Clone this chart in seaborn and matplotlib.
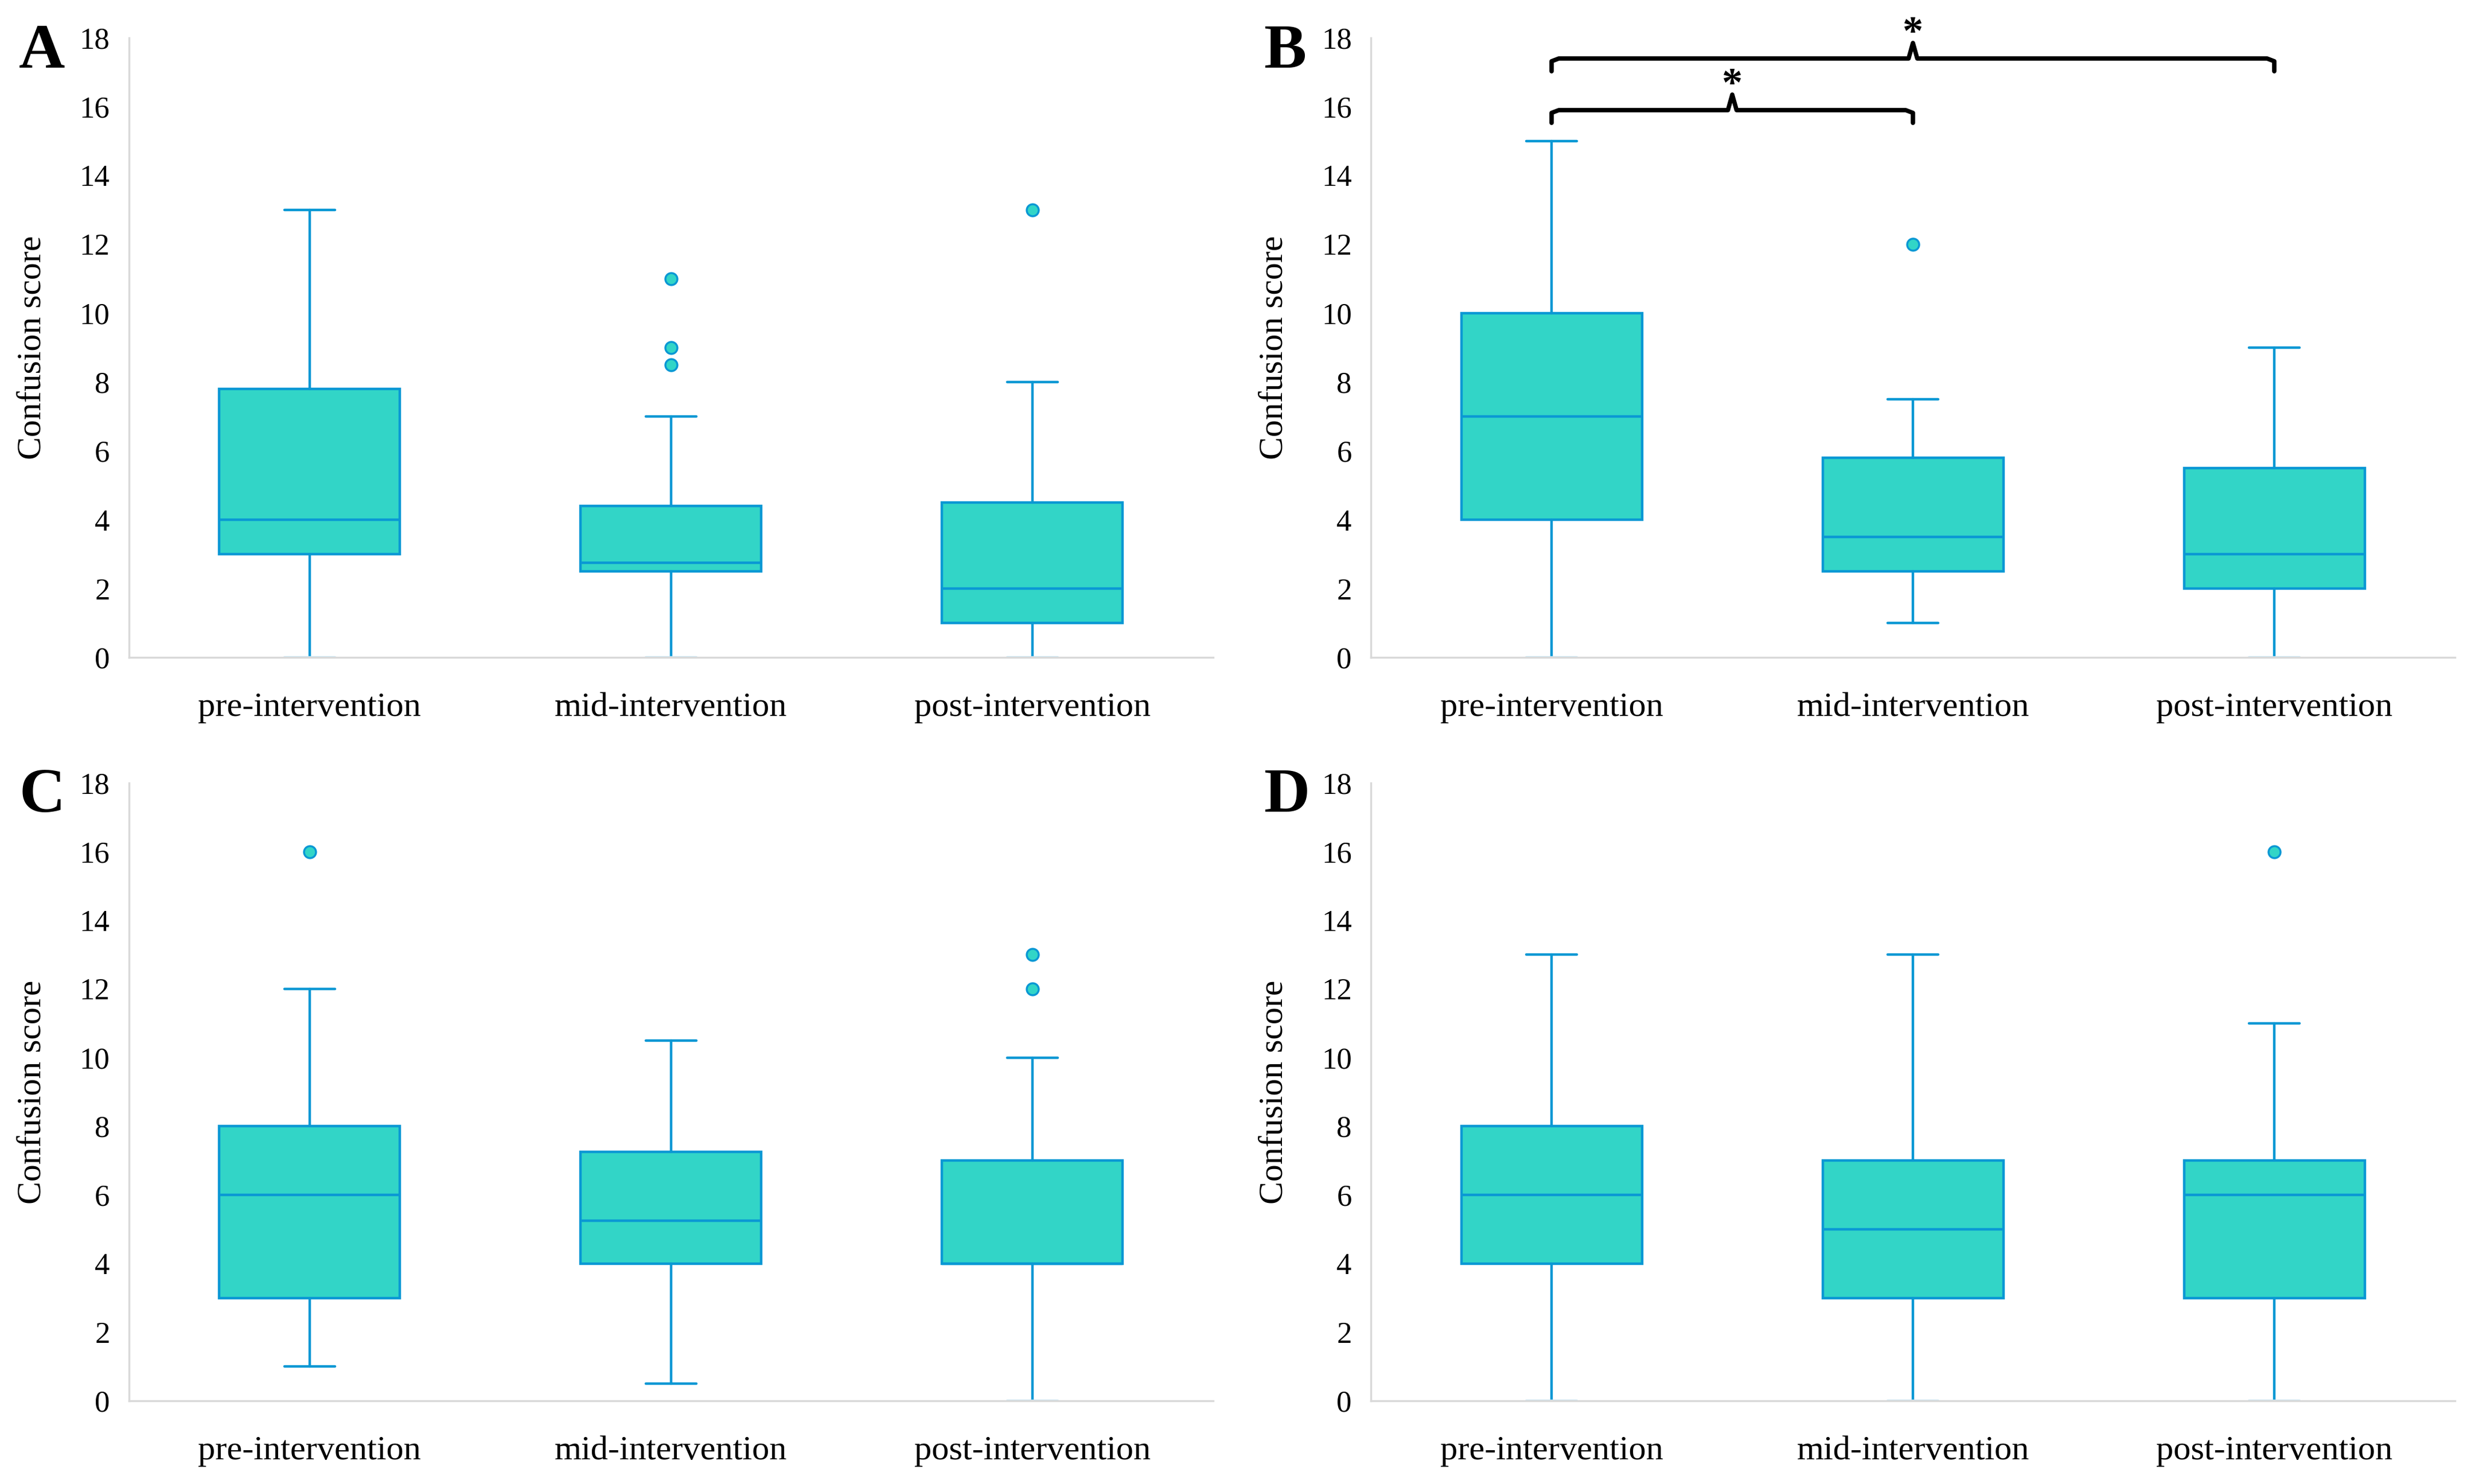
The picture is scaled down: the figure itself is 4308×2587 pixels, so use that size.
import numpy as np
import pandas as pd
import matplotlib
matplotlib.use("Agg")
import matplotlib.pyplot as plt
import seaborn as sns

# groups on the x axis
groups = ["pre-intervention", "mid-intervention", "post-intervention"]
panels = ["A", "B", "C", "D"]

# box statistics, one list per panel, one entry per group
whis_low = {"A": [0, 0, 0], "B": [0, 1, 0], "C": [1, 0.5, 0], "D": [0, 0, 0]}
q1 = {"A": [3, 2.5, 1], "B": [4, 2.5, 2], "C": [3, 4, 4], "D": [4, 3, 3]}
median = {"A": [4, 2.75, 2], "B": [7, 3.5, 3], "C": [6, 5.25, 4], "D": [6, 5, 6]}
q3 = {"A": [7.8, 4.4, 4.5], "B": [10, 5.8, 5.5], "C": [8, 7.25, 7], "D": [8, 7, 7]}
whis_high = {"A": [13, 7, 8], "B": [15, 7.5, 9], "C": [12, 10.5, 10], "D": [13, 13, 11]}
outliers = {
    "A": [[], [8.5, 9, 11], [13]],
    "B": [[], [12], []],
    "C": [[16], [], [12, 13]],
    "D": [[], [], [16]],
}

# significance brackets in panel B: (from group, to group)
sig_pairs = [(0, 1), (0, 2)]
sig_levels = [15.9, 17.4]
sig_marks = ["*", "*"]

FILL = "#32d5c7"
EDGE = "#0a98d4"
AXIS = "#d9d9d9"

sns.set_theme(style="white")
plt.rcParams["font.family"] = ["Liberation Serif", "DejaVu Serif"]
plt.rcParams["text.color"] = "black"
plt.rcParams["axes.labelcolor"] = "black"

fig = plt.figure(figsize=(43.08, 25.87), dpi=100)

boxes_pos = {
    "A": [0.0522, 0.557, 0.4387, 0.4175],
    "B": [0.5548, 0.557, 0.4387, 0.4175],
    "C": [0.0522, 0.056, 0.4387, 0.4164],
    "D": [0.5548, 0.056, 0.4387, 0.4164],
}
letter_pos = {"A": (0.0077, 0.9544), "B": (0.5114, 0.9544),
              "C": (0.0077, 0.453), "D": (0.5114, 0.453)}

for p in panels:
    ax = fig.add_axes(boxes_pos[p])
    stats = []
    for i, g in enumerate(groups):
        stats.append(dict(label=g, whislo=whis_low[p][i], q1=q1[p][i], med=median[p][i],
                          q3=q3[p][i], whishi=whis_high[p][i], fliers=outliers[p][i]))
    art = ax.bxp(stats, positions=[0, 1, 2], widths=0.5, capwidths=0.14,
                 patch_artist=True, showfliers=True,
                 boxprops=dict(facecolor=FILL, edgecolor=EDGE, linewidth=3.2),
                 medianprops=dict(color=EDGE, linewidth=3.2),
                 whiskerprops=dict(color=EDGE, linewidth=3.2),
                 capprops=dict(color=EDGE, linewidth=3.2),
                 flierprops=dict(marker="o", markerfacecolor=FILL, markeredgecolor=EDGE,
                                 markersize=15, markeredgewidth=2.5))
    # caps sitting on the axis look washed out in the original
    for cap in art["caps"]:
        if cap.get_ydata()[0] == 0:
            cap.set_color("#c9e6f2")

    ax.set_xlim(-0.5, 2.5)
    ax.set_ylim(0, 18)
    ax.set_yticks(np.arange(0, 19, 2))
    ax.tick_params(axis="both", length=0, colors="black")
    ax.tick_params(axis="y", labelsize=38, pad=24)
    ax.tick_params(axis="x", labelsize=43.5, pad=44)
    ax.set_ylabel("Confusion score", fontsize=43, color="black")
    ax.yaxis.set_label_coords(-0.075, 0.5)
    sns.despine(ax=ax)
    for s in ["left", "bottom"]:
        ax.spines[s].set_color(AXIS)
        ax.spines[s].set_linewidth(2.5)
        ax.spines[s].set_zorder(3)
    ax.grid(False)

    fig.text(*letter_pos[p], p, fontsize=80, fontweight="bold", color="black",
             ha="left", va="baseline")

    if p == "B":
        for (a, b), yb, m in zip(sig_pairs, sig_levels, sig_marks):
            xm = (a + b) / 2
            xs = [a, a, a + 0.02, xm - 0.012, xm, xm + 0.012, b - 0.02, b, b]
            ys = [yb - 0.37, yb - 0.08, yb, yb, yb + 0.45, yb, yb, yb - 0.08, yb - 0.37]
            ax.plot(xs, ys, color="black", linewidth=5.5, clip_on=False, zorder=4,
                    solid_joinstyle="round", solid_capstyle="round")
            ax.text(xm, yb + 0.7, m, fontsize=52, fontweight="bold", color="black",
                    ha="center", va="center", clip_on=False)

fig.savefig("out.png", dpi=100, facecolor="white")
